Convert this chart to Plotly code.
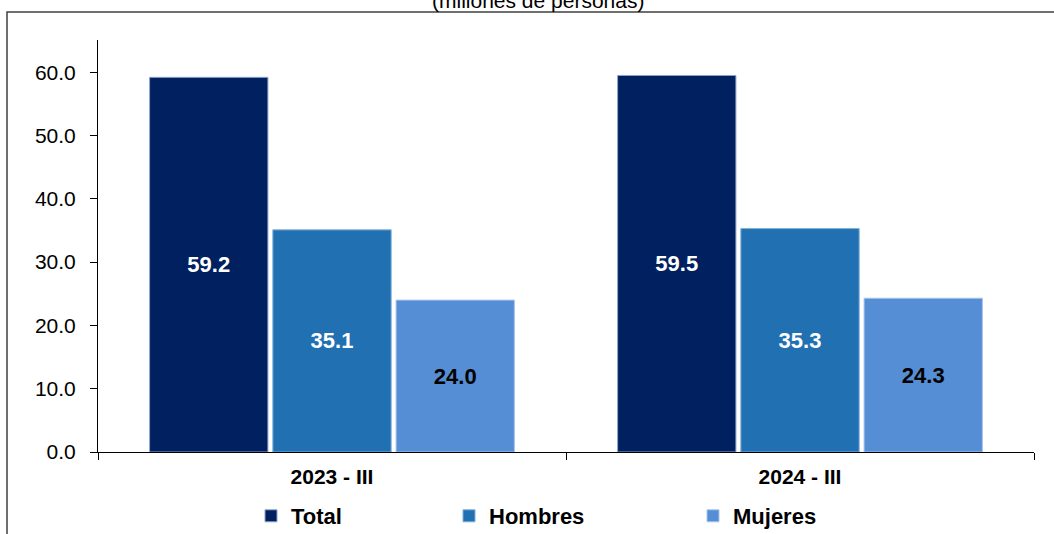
import plotly.graph_objects as go

categories = ["2023 - III", "2024 - III"]
series_names = ["Total", "Hombres", "Mujeres"]
total_vals = [59.2, 59.5]
hombres_vals = [35.1, 35.3]
mujeres_vals = [24.0, 24.3]
tick_vals = [0, 10, 20, 30, 40, 50, 60]
tick_text = ["0.0", "10.0", "20.0", "30.0", "40.0", "50.0", "60.0"]

colors = ["#002060", "#2170B2", "#558ED5"]
text_colors = ["white", "white", "black"]
border_colors = ["#8FA3C8", "#7FAFD8", "#A9C5EC"]
legend_ids = ["legend", "legend2", "legend3"]
legend_left_px = [251, 449, 693]

W, H = 1054, 534
L, R, T, B = 98, 20, 40, 82
PW, PH = W - L - R, H - T - B

def px_x(px):
    return (px - L) / PW

def px_y(py):
    return (H - B - py) / PH

fig = go.Figure()
for name, vals, c, tc, bc, lg in zip(series_names, [total_vals, hombres_vals, mujeres_vals],
                                     colors, text_colors, border_colors, legend_ids):
    fig.add_trace(go.Bar(
        x=categories, y=vals, name=name, legend=lg,
        marker=dict(color=c, line=dict(color=bc, width=1)),
        text=[f"{v:.1f}" for v in vals],
        textposition="inside", insidetextanchor="middle",
        textfont=dict(family="Liberation Sans, Arial", size=22, color=tc, weight="bold"),
        constraintext="none",
    ))

legend_common = dict(orientation="h", yanchor="middle", y=px_y(516), xanchor="left",
                     font=dict(family="Liberation Sans, Arial", size=22, color="black", weight="bold"),
                     bgcolor="rgba(0,0,0,0)", borderwidth=0)
layout_legends = {}
for lg, lx in zip(legend_ids, legend_left_px):
    layout_legends[lg] = dict(legend_common, x=px_x(lx))

fig.update_layout(
    width=W, height=H,
    margin=dict(l=L, r=R, t=T, b=B, autoexpand=False),
    paper_bgcolor="white", plot_bgcolor="white",
    barmode="group", bargap=0.21, bargroupgap=0.04,
    font=dict(family="Liberation Sans, Arial", size=21, color="black"),
    showlegend=True,
    **layout_legends,
)
fig.add_annotation(text="(millones de personas)", xref="paper", yref="paper",
                   x=px_x(538), y=px_y(0), xanchor="center", yanchor="middle",
                   showarrow=False,
                   font=dict(family="Liberation Sans, Arial", size=21, color="black"))
fig.update_yaxes(
    range=[0, 65.1], tickvals=tick_vals, ticktext=tick_text,
    showgrid=False, zeroline=False, showline=True, linecolor="black", linewidth=1,
    ticks="outside", ticklen=7, tickcolor="black", ticklabelstandoff=10,
    tickfont=dict(size=21),
)
fig.update_xaxes(
    showgrid=False, showline=True, linecolor="black", linewidth=1,
    ticks="outside", ticklen=7, tickcolor="black", tickson="boundaries",
    ticklabelstandoff=6,
    tickfont=dict(size=21, weight="bold"),
)
fig.add_shape(type="rect", xref="paper", yref="paper",
              x0=px_x(7), x1=px_x(1062),
              y0=px_y(600), y1=px_y(12),
              line=dict(color="#404040", width=1.5), fillcolor="rgba(0,0,0,0)", layer="below")

fig.write_html("out.html", config={"displayModeBar": False},
               post_script="document.body.style.margin='0';document.body.style.padding='0';")
